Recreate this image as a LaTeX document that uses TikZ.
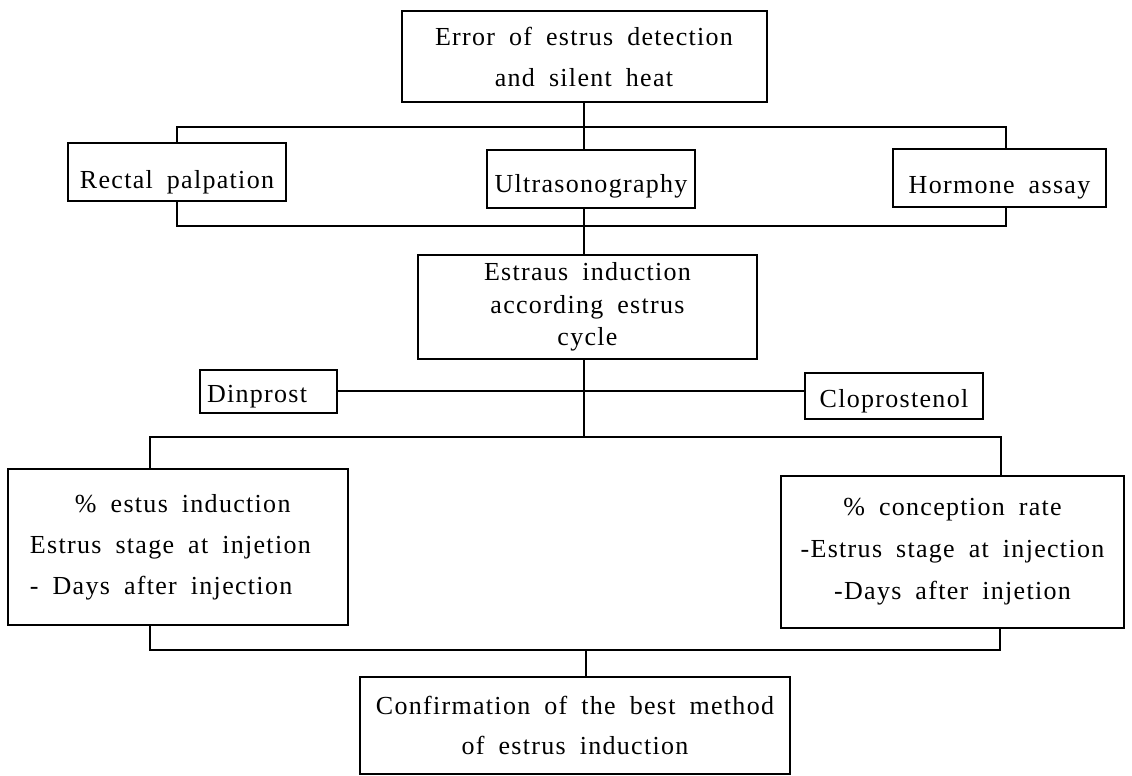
\documentclass[tikz,border=0pt]{standalone}
\usepackage{fontspec}
\setmainfont{Liberation Serif}[LetterSpace=5,WordSpace=1.8]
\begin{document}
\begin{tikzpicture}[x=0.5pt,y=-0.5pt,
  every node/.style={font=\fontsize{13pt}{20.5pt}\selectfont},
  box/.style={draw,line width=1pt,rectangle},
  one/.style={box,inner sep=0pt},
  conn/.style={line width=1pt}]
\useasboundingbox (0,0) rectangle (1132,776);
% boxes
\node[box,minimum width=182.5pt,minimum height=45.5pt,align=center,inner ysep=2pt] (top) at (584,56.5) {Error of estrus detection\\and silent heat};
\node[one,minimum width=109pt,minimum height=29pt,text height=22.5pt,text depth=6.5pt] (rectal) at (177,172) {Rectal palpation};
\node[one,minimum width=104pt,minimum height=29pt,text height=21pt,text depth=8pt] (ultra) at (591,179) {Ultrasonography};
\node[one,minimum width=106.5pt,minimum height=29pt,text height=22pt,text depth=7pt] (hormone) at (999.5,178) {Hormone assay};
\node[box,minimum width=169.5pt,minimum height=52pt,align=center,inner ysep=2pt,font=\fontsize{13pt}{16.25pt}\selectfont] (estraus) at (587.5,307) {Estraus induction\\according estrus\\cycle};
\node[one,minimum height=21.5pt,text height=16.5pt,text depth=5pt,text width=61.5pt,align=flush left,inner xsep=3.5pt] (dinprost) at (268.5,391) {Dinprost};
\node[one,minimum width=89pt,minimum height=23pt,text height=17pt,text depth=6pt] (clopro) at (894,396) {Cloprostenol};
\node[box,minimum height=78pt,text width=148pt,align=flush left,inner xsep=11pt,inner ysep=2pt] (leftbox) at (178,547) {\hspace*{22.5pt}\% estus induction\\Estrus stage at injetion\\- Days after injection};
\node[box,minimum width=171.5pt,minimum height=76pt,align=center,inner ysep=2pt,font=\fontsize{13pt}{21pt}\selectfont] (rightbox) at (952.5,552) {\% conception rate\\-Estrus stage at injection\\-Days after injetion};
\node[box,minimum width=215pt,minimum height=48.5pt,align=center,inner ysep=2pt,font=\fontsize{13pt}{20pt}\selectfont] (bottom) at (575,725.5) {Confirmation of the best method\\of estrus induction};
% junction coordinates
\coordinate (trc) at (1006,127);
\coordinate (brc) at (1006,226);
\coordinate (lbl) at (150,437);
\coordinate (lbr) at (1001,437);
\coordinate (ubl) at (150,650);
\coordinate (ubr) at (1000,650);
\coordinate (um) at (586,650);
% connectors
\draw[conn] (top.south) -- (top.south |- ultra.north);
\draw[conn] (rectal.north) |- (trc) -- (trc |- hormone.north);
\draw[conn] (rectal.south) |- (brc) -- (brc |- hormone.south);
\draw[conn] (top.south |- ultra.south) -- (top.south |- estraus.north);
\draw[conn] (top.south |- estraus.south) -- (top.south |- lbl);
\draw[conn] (dinprost.east) -- (dinprost.east -| clopro.west);
\draw[conn] (leftbox.north -| lbl) -- (lbl) -- (lbr) -- (rightbox.north -| lbr);
\draw[conn] (leftbox.south -| ubl) -- (ubl) -- (ubr) -- (rightbox.south -| ubr);
\draw[conn] (um) -- (um |- bottom.north);
\end{tikzpicture}
\end{document}
